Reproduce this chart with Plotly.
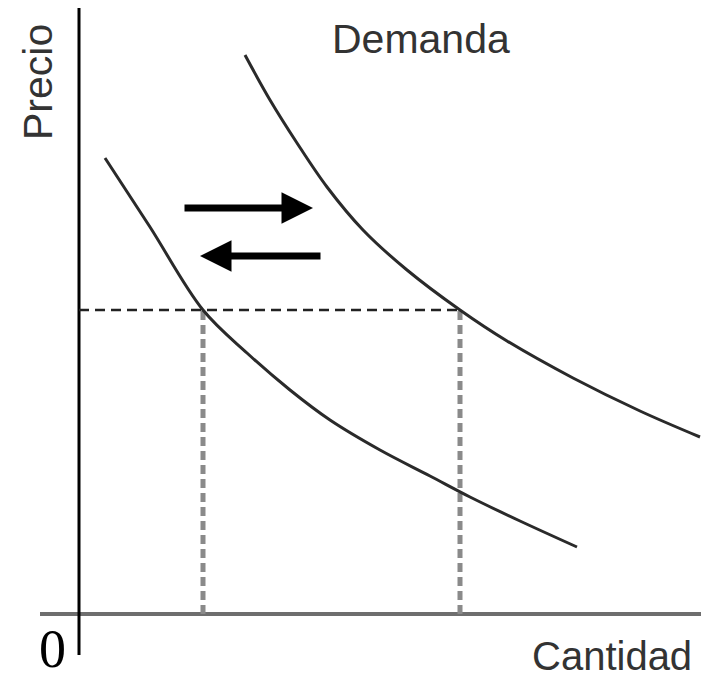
import plotly.graph_objects as go

# Demand curves (quantity, price) in arbitrary units
d1_q = [2.6, 7.1, 12.4, 16.8, 21.1, 25.1, 30.1, 35.1, 39.1, 44.1, 49.8]
d1_p = [45.6, 38.7, 30.4, 26.1, 22.4, 19.4, 16.4, 13.8, 11.7, 9.3, 6.7]
d2_q = [16.6, 19.1, 21.8, 24.8, 28.4, 32.8, 38.1, 42.8, 49.4, 56.1, 62.1]
d2_p = [55.9, 51.4, 47.1, 42.7, 38.4, 34.4, 30.4, 27.3, 23.6, 20.3, 17.7]

p_eq = 30.4
q1 = 12.4
q2 = 38.1

# arrows (shift of demand)
arrow_right = dict(x0=10.4, x1=23.4, y=40.6)
arrow_left = dict(x0=24.3, x1=12.1, y=35.8)

x_range = [-7.9, 62.2]
y_range = [-6.7, 61.4]

fig = go.Figure()

# axes
fig.add_trace(go.Scatter(x=[-3.9, 62.2], y=[0, 0], mode="lines",
                         line=dict(color="#6e6e6e", width=4), hoverinfo="skip"))
fig.add_trace(go.Scatter(x=[0, 0], y=[-4.1, 60.6], mode="lines",
                         line=dict(color="#000000", width=3), hoverinfo="skip"))

# reference lines
fig.add_trace(go.Scatter(x=[0, q2], y=[p_eq, p_eq], mode="lines",
                         line=dict(color="#222222", width=2.5, dash="10px,6px"), hoverinfo="skip"))
fig.add_trace(go.Scatter(x=[q1, q1], y=[0, p_eq], mode="lines",
                         line=dict(color="#8a8a8a", width=5, dash="9px,5px"), hoverinfo="skip"))
fig.add_trace(go.Scatter(x=[q2, q2], y=[0, p_eq], mode="lines",
                         line=dict(color="#8a8a8a", width=5, dash="9px,5px"), hoverinfo="skip"))

# demand curves
fig.add_trace(go.Scatter(x=d1_q, y=d1_p, mode="lines",
                         line=dict(color="#2a2a2a", width=3, shape="spline", smoothing=1),
                         hoverinfo="skip"))
fig.add_trace(go.Scatter(x=d2_q, y=d2_p, mode="lines",
                         line=dict(color="#2a2a2a", width=3, shape="spline", smoothing=1),
                         hoverinfo="skip"))

for a in (arrow_right, arrow_left):
    fig.add_annotation(x=a["x1"], y=a["y"], ax=a["x0"], ay=a["y"],
                       xref="x", yref="y", axref="x", ayref="y",
                       showarrow=True, arrowhead=2, arrowsize=0.9,
                       arrowwidth=7, arrowcolor="#000000", text="")

W, H = 701, 681


def label(px, py, text, **kw):
    fig.add_annotation(x=px / W, y=1 - py / H, xref="paper", yref="paper",
                       xanchor="center", yanchor="middle", text=text, showarrow=False,
                       borderpad=0, **kw)


label(421, 39, "Demanda", font=dict(family="Liberation Sans", size=41, color="#333333"))
label(612, 656, "Cantidad", font=dict(family="Liberation Sans", size=40, color="#333333"))
label(38, 82, "Precio", textangle=-90,
      font=dict(family="Liberation Sans", size=41, color="#333333"))
label(52, 649, "0", font=dict(family="Liberation Serif", size=54, color="#000000"))

fig.update_layout(
    width=W, height=H,
    margin=dict(l=0, r=0, t=0, b=0),
    paper_bgcolor="white", plot_bgcolor="white",
    showlegend=False,
    xaxis=dict(range=x_range, visible=False, fixedrange=True),
    yaxis=dict(range=y_range, visible=False, fixedrange=True),
)

fig.write_html(
    "out.html",
    config={"displayModeBar": False, "staticPlot": True},
    post_script="document.body.style.margin='0';document.body.style.overflow='hidden';",
)
